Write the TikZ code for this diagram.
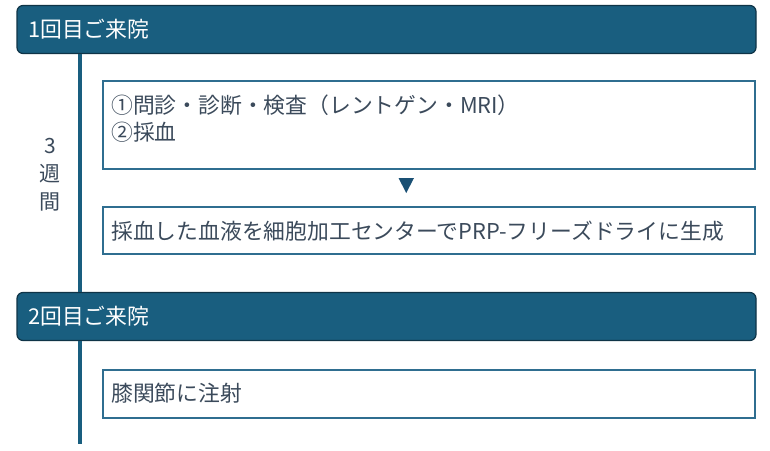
\documentclass[tikz,border=0pt]{standalone}
\usepackage{fontspec}
\newfontfamily\jp{Noto Sans CJK JP}
\definecolor{headfill}{HTML}{195E7F}
\definecolor{headline}{HTML}{0F3447}
\definecolor{boxline}{HTML}{2F6E90}
\definecolor{txt}{HTML}{3B4A5B}
\definecolor{tri}{HTML}{1A5074}
\begin{document}
\begin{tikzpicture}[x=1pt,y=-1pt,
  header/.style={draw=headline, line width=1.2pt, fill=headfill, rounded corners=6pt,
    minimum width=739pt, minimum height=48pt, inner sep=0pt},
  htext/.style={anchor=west, text=white, font=\jp\fontsize{21.8}{27}\selectfont, inner sep=0pt},
  stepbox/.style={draw=boxline, line width=1.4pt, fill=white, minimum width=652pt, inner sep=0pt},
  btext/.style={anchor=west, text=txt, font=\jp\fontsize{21.8}{27}\selectfont, inner sep=0pt, align=left},
  bar/.style={draw=headfill, line width=4pt}
]
\useasboundingbox (0,0) rectangle (770,450);
% headers
\node[header] (h1) at (386.5,29.5) {};
\node[htext] (h1t) at (28,29.5) {1回目ご来院};
\node[header] (h2) at (386.5,316.5) {};
\node[htext] (h2t) at (28,316.5) {2回目ご来院};
% timeline bar
\coordinate (barend) at (80,444);
\draw[bar] (h1.south -| barend) -- (h2.north -| barend);
\draw[bar] (h2.south -| barend) -- (barend);
% duration label
\node[text=txt, font=\jp\fontsize{21}{28}\selectfont, align=center, inner sep=0pt] (wk) at (50,175) {3\\週\\間};
% boxes
\node[stepbox, minimum height=88pt] (b1) at (429,125) {};
\node[btext] (b1t) at (111,119) {①問診・診断・検査（レントゲン・MRI）\\②採血};
\node[stepbox, minimum height=47pt] (b2) at (429,230.5) {};
\node[btext] (b2t) at (111,231) {採血した血液を細胞加工センターでPRP-フリーズドライに生成};
\node[stepbox, minimum height=48pt] (b3) at (429,394) {};
\node[btext] (b3t) at (111,393.5) {膝関節に注射};
% arrow triangle
\fill[tri] (398.5,178) -- (414,178) -- (406.25,193) -- cycle;
\end{tikzpicture}
\end{document}
